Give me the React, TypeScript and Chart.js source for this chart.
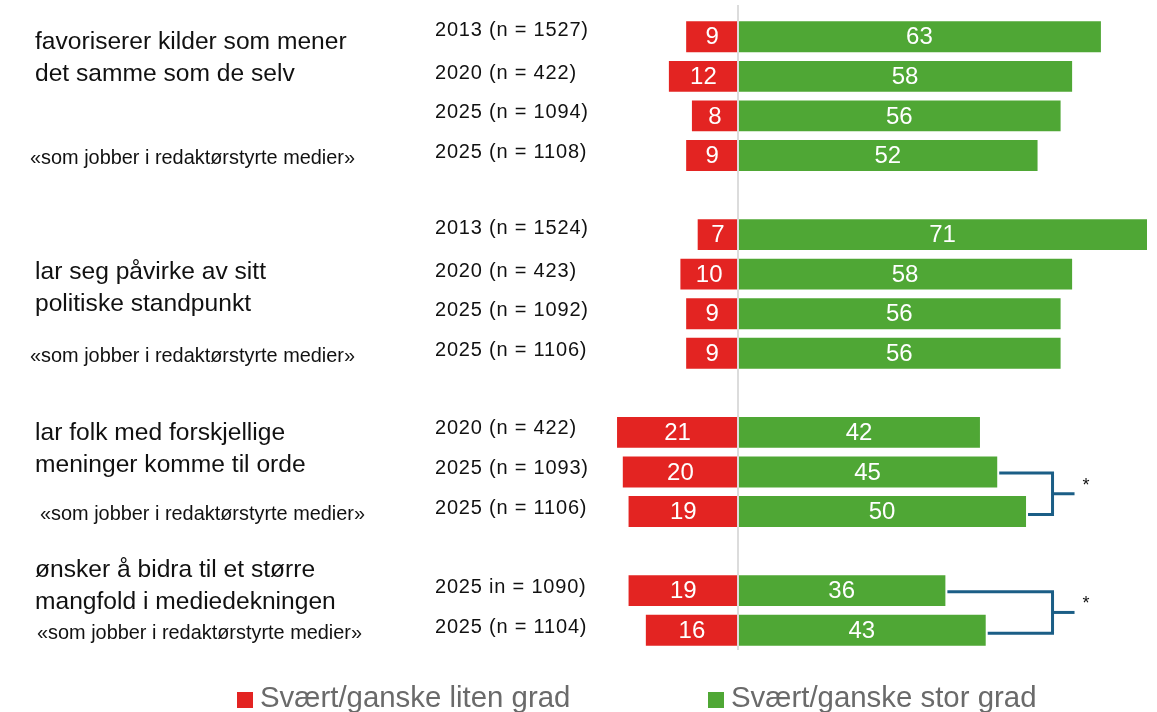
import React, { useEffect, useRef } from "react";
import { Chart, registerables } from "chart.js";

Chart.register(...registerables);

// ---- data ----
const rowKeys = ["g1-2013", "g1-2020", "g1-2025", "g1-2025r", "gap1", "g2-2013", "g2-2020", "g2-2025", "g2-2025r", "gap2", "g3-2020", "g3-2025", "g3-2025r", "gap3", "g4-2025", "g4-2025r"];
const yearLabels = ["2013 (n = 1527)", "2020 (n = 422)", "2025 (n = 1094)", "2025 (n = 1108)", "", "2013 (n = 1524)", "2020 (n = 423)", "2025 (n = 1092)", "2025 (n = 1106)", "", "2020 (n = 422)", "2025 (n = 1093)", "2025 (n = 1106)", "", "2025 in = 1090)", "2025 (n = 1104)"];
const lowValues: (number | null)[] = [9, 12, 8, 9, null, 7, 10, 9, 9, null, 21, 20, 19, null, 19, 16];
const highValues: (number | null)[] = [63, 58, 56, 52, null, 71, 58, 56, 56, null, 42, 45, 50, null, 36, 43];
const groupLines = [
  ["favoriserer kilder som mener", "det samme som de selv"],
  ["lar seg påvirke av sitt", "politiske standpunkt"],
  ["lar folk med forskjellige", "meninger komme til orde"],
  ["ønsker å bidra til et større", "mangfold i mediedekningen"],
];
const subLabel = "«som jobber i redaktørstyrte medier»";
const subLabelRows = [3, 8, 12, 15];
const significancePairs = [
  [11, 12],
  [14, 15],
];
const legendLabels = ["Svært/ganske liten grad", "Svært/ganske stor grad"];

const RED = "#E32422";
const GREEN = "#4FA735";
const BRACKET = "#1B5E86";
const FONT = "'Liberation Sans', Arial, Helvetica, sans-serif";

// layout helpers (positions, not data)
const groupAnchorRows = [0.53, 6.35, 10.43, 13.9];
const subLabelX = [30, 30, 40, 37];

const overlayPlugin = {
  id: "overlay",
  afterDatasetsDraw(chart: any) {
    const { ctx, scales, chartArea } = chart;
    const x = scales.x;
    const y = scales.y;
    const x0 = x.getPixelForValue(0);
    ctx.save();

    // center line
    ctx.strokeStyle = "#dcdcdc";
    ctx.lineWidth = 2;
    ctx.beginPath();
    ctx.moveTo(x0, 5);
    ctx.lineTo(x0, chartArea.bottom);
    ctx.stroke();

    // value labels
    ctx.fillStyle = "#ffffff";
    ctx.font = `24px ${FONT}`;
    ctx.textAlign = "center";
    ctx.textBaseline = "middle";
    rowKeys.forEach((_, i) => {
      const lo = lowValues[i];
      const hi = highValues[i];
      const yc = y.getPixelForValue(i);
      if (lo != null) {
        const xl = x.getPixelForValue(-lo);
        ctx.fillText(String(lo), (xl + x0) / 2, yc + 1);
      }
      if (hi != null) {
        const xr = x.getPixelForValue(hi);
        ctx.fillText(String(hi), (xr + x0) / 2, yc + 1);
      }
    });

    // year labels
    ctx.fillStyle = "#111111";
    ctx.font = `20px ${FONT}`;
    ctx.textAlign = "left";
    (ctx as any).letterSpacing = "0.8px";
    yearLabels.forEach((t, i) => {
      if (!t) return;
      const off = i === 0 || i === 5 ? -6 : i === 10 ? -4 : -3;
      ctx.fillText(t, 435, y.getPixelForValue(i) + off);
    });
    (ctx as any).letterSpacing = "0px";

    // group labels
    ctx.font = `24.6px ${FONT}`;
    groupLines.forEach((lines, g) => {
      const r = groupAnchorRows[g];
      const yc = y.getPixelForValue(0) + r * (y.getPixelForValue(1) - y.getPixelForValue(0));
      ctx.fillText(lines[0], 35, yc - 16);
      ctx.fillText(lines[1], 35, yc + 16);
    });

    // sub labels
    ctx.font = `19.9px ${FONT}`;
    subLabelRows.forEach((r, k) => {
      ctx.fillText(subLabel, subLabelX[k], y.getPixelForValue(r) + 3);
    });

    // significance brackets
    ctx.strokeStyle = BRACKET;
    ctx.lineWidth = 3;
    ctx.lineCap = "butt";
    const xv = x.getPixelForValue(54.6);
    significancePairs.forEach(([a, b]) => {
      const ya = y.getPixelForValue(a) + 1;
      const yb = y.getPixelForValue(b) + 3;
      const xa = x.getPixelForValue(highValues[a] as number) + 2;
      const xb = x.getPixelForValue(highValues[b] as number) + 2;
      ctx.beginPath();
      ctx.moveTo(xa, ya);
      ctx.lineTo(xv, ya);
      ctx.lineTo(xv, yb);
      ctx.lineTo(xb, yb);
      ctx.stroke();
      const ym = (ya + yb) / 2;
      ctx.beginPath();
      ctx.moveTo(xv, ym);
      ctx.lineTo(xv + 22, ym);
      ctx.stroke();
      ctx.fillStyle = "#111111";
      ctx.font = `18px ${FONT}`;
      ctx.textAlign = "left";
      ctx.fillText("*", xv + 30, ym - 8);
    });

    // legend
    ctx.font = `29.4px ${FONT}`;
    ctx.textBaseline = "middle";
    const legendItems = [
      { color: RED, x: 237 },
      { color: GREEN, x: 708 },
    ];
    legendItems.forEach((it, k) => {
      ctx.fillStyle = it.color;
      ctx.fillRect(it.x, 692, 16, 16);
      ctx.fillStyle = "#6a6a6a";
      ctx.fillText(legendLabels[k], it.x + 23, 699);
    });

    ctx.restore();
  },
};

export default function App() {
  const ref = useRef<HTMLCanvasElement | null>(null);
  useEffect(() => {
    if (!ref.current) return;
    const chart = new Chart(ref.current, {
      type: "bar",
      data: {
        labels: rowKeys,
        datasets: [
          {
            label: legendLabels[0],
            data: lowValues.map((v) => (v == null ? null : -v)),
            backgroundColor: RED,
            borderWidth: 0,
            categoryPercentage: 1,
            barPercentage: 0.78,
          },
          {
            label: legendLabels[1],
            data: highValues,
            backgroundColor: GREEN,
            borderWidth: 0,
            categoryPercentage: 1,
            barPercentage: 0.78,
          },
        ],
      },
      options: {
        indexAxis: "y",
        responsive: true,
        maintainAspectRatio: false,
        animation: false,
        layout: { padding: { left: 594, right: 10, top: 17, bottom: 62 } },
        plugins: { legend: { display: false }, tooltip: { enabled: false } },
        scales: {
          x: { display: false, min: -25, max: 71, stacked: true },
          y: { display: false, stacked: true },
        },
      },
      plugins: [overlayPlugin],
    });
    return () => chart.destroy();
  }, []);
  return (
    <div style={{ position: "fixed", left: 0, top: 0, width: 1157, height: 712, background: "#fff" }}>
      <canvas ref={ref} />
    </div>
  );
}
